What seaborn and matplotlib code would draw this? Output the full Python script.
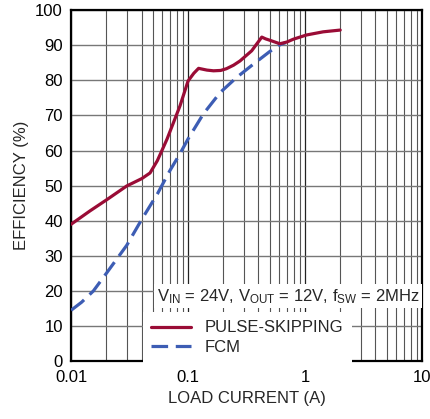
import matplotlib
matplotlib.use("Agg")
import matplotlib.pyplot as plt
from matplotlib.ticker import LogLocator, NullFormatter, FixedLocator
import seaborn as sns
import pandas as pd

# Pulse-skipping mode curve
ps_current = [0.01, 0.0145, 0.0202, 0.0299, 0.0402, 0.0473, 0.0546, 0.0596, 0.066,
              0.0853, 0.1, 0.112, 0.123, 0.145, 0.165, 0.19, 0.213, 0.245, 0.278,
              0.35, 0.427, 0.46, 0.5, 0.61, 0.7, 0.795, 1.03, 1.43, 2.0]
ps_eff = [39.0, 42.8, 46.0, 49.9, 52.0, 53.6, 57.1, 59.9, 63.2,
          72.7, 79.8, 82.0, 83.4, 82.9, 82.7, 82.8, 83.3, 84.3, 85.5,
          88.4, 92.3, 91.8, 91.4, 90.4, 90.9, 91.7, 92.9, 93.8, 94.3]

# Forced continuous mode curve
fcm_current = [0.01, 0.0123, 0.0155, 0.0202, 0.0299, 0.0402, 0.0546, 0.07, 0.085,
               0.1, 0.135, 0.188, 0.26, 0.362, 0.5, 0.61, 0.68]
fcm_eff = [14.5, 16.8, 20.0, 25.2, 33.0, 40.4, 47.6, 54.3, 59.0,
           63.3, 70.4, 76.5, 80.8, 84.6, 88.2, 90.1, 90.7]

x_ticks = [0.01, 0.1, 1, 10]
x_labels = ["0.01", "0.1", "1", "10"]
y_ticks = list(range(0, 101, 10))

df_ps = pd.DataFrame({"Current": ps_current, "Efficiency": ps_eff})
df_fcm = pd.DataFrame({"Current": fcm_current, "Efficiency": fcm_eff})

sns.set_style("white")
plt.rcParams["font.family"] = ["Liberation Sans Narrow", "Liberation Sans", "DejaVu Sans"]
plt.rcParams["mathtext.fontset"] = "custom"
plt.rcParams["mathtext.rm"] = "Liberation Sans Narrow"
plt.rcParams["mathtext.default"] = "regular"

red = "#9a0c36"
blue = "#3d5db4"

fig = plt.figure(figsize=(4.31, 4.19), dpi=100)
ax = fig.add_axes([0.165, 0.138, 0.814, 0.838])

sns.lineplot(data=df_ps, x="Current", y="Efficiency", ax=ax, color=red,
             linewidth=2.3, label="PULSE-SKIPPING", zorder=4)
sns.lineplot(data=df_fcm, x="Current", y="Efficiency", ax=ax, color=blue,
             linewidth=2.3, linestyle=(0, (5.2, 2.4)), label="FCM", zorder=3)
for ln in ax.get_lines():
    ln.set_solid_joinstyle("round")
    ln.set_dash_capstyle("butt")

ax.set_xscale("log")
ax.set_xlim(0.01, 10)
ax.set_ylim(0, 100)
ax.xaxis.set_major_locator(FixedLocator(x_ticks))
ax.set_xticklabels(x_labels)
ax.xaxis.set_minor_locator(LogLocator(base=10, subs=range(2, 10)))
ax.xaxis.set_minor_formatter(NullFormatter())
ax.set_yticks(y_ticks)

ax.grid(True, which="major", axis="x", color="#222222", linewidth=0.9)
ax.grid(True, which="minor", axis="x", color="#555555", linewidth=0.8)
ax.grid(True, which="major", axis="y", color="#777777", linewidth=1.0)
ax.set_axisbelow(True)

for s in ax.spines.values():
    s.set_color("black")
    s.set_linewidth(1.6)

ax.tick_params(axis="both", which="both", direction="in", labelsize=12,
               colors="black", length=3, width=0.8, pad=6)
ax.tick_params(axis="x", which="minor", length=2)

ax.set_xlabel("LOAD CURRENT (A)", fontsize=12, labelpad=5)
ax.set_ylabel("EFFICIENCY (%)", fontsize=12, labelpad=4)

ax.text(0.245, 0.185, "V$_{IN}$ = 24V, V$_{OUT}$ = 12V, f$_{SW}$ = 2MHz",
        transform=ax.transAxes, fontsize=12, ha="left", va="center", zorder=5,
        bbox=dict(facecolor="white", edgecolor="none", pad=2))

leg = ax.legend(loc="lower left", bbox_to_anchor=(0.205, -0.005), fontsize=12,
                frameon=True, fancybox=False, framealpha=1, edgecolor="none",
                facecolor="white", handlelength=2.4, handletextpad=0.8,
                labelspacing=0.25, borderpad=0.5, borderaxespad=0)
leg.set_zorder(6)

fig.savefig("out.png", dpi=100)
